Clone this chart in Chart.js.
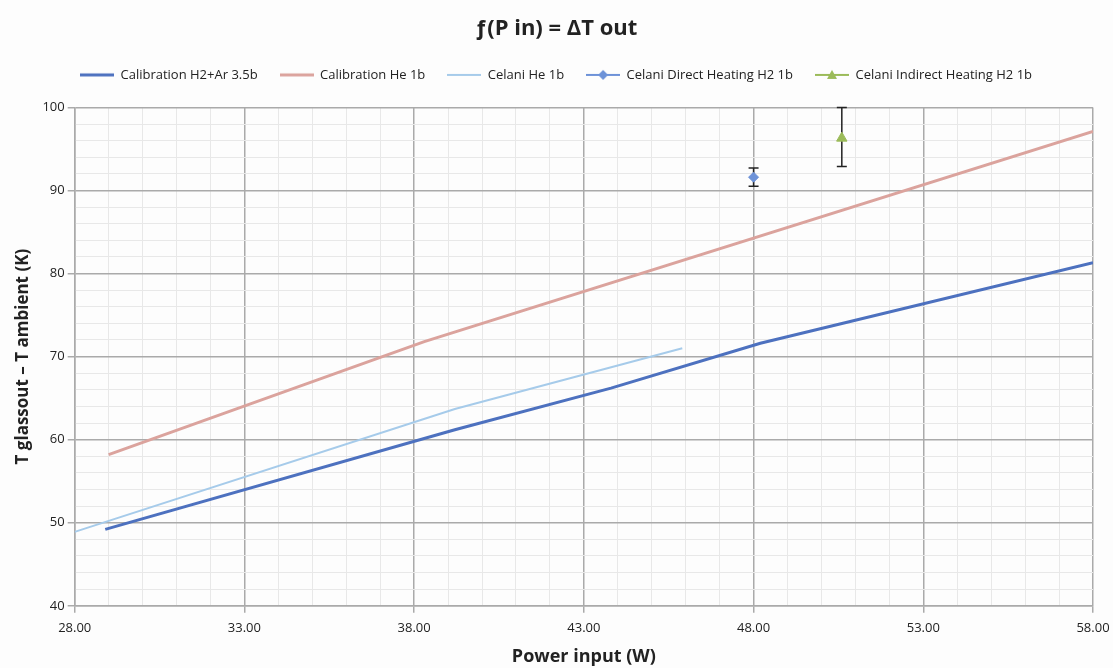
<!DOCTYPE html>
<html>
<head>
<meta charset="utf-8">
<script src="https://cdn.jsdelivr.net/npm/chart.js@4.4.0/dist/chart.umd.min.js"></script>
<style>
  html, body { margin: 0; padding: 0; background: #fdfdfd; }
  #wrap { width: 1113px; height: 668px; }
</style>
</head>
<body>
<div id="wrap"><canvas id="heatChart"></canvas></div>
<script>
// series
const calH2ArX = [28.9, 39.2, 43.8, 48.2, 58.0];
const calH2ArY = [49.2, 61.2, 66.2, 71.6, 81.3];

const calHeX = [29.0, 38.3, 58.0];
const calHeY = [58.2, 71.8, 97.1];

const celaniHeX = [28.0, 39.2, 45.9];
const celaniHeY = [48.9, 63.7, 71.0];

const directX = [48.0];
const directY = [91.6];
const directLow = [90.5];
const directHigh = [92.7];

const indirectX = [50.6];
const indirectY = [96.3];
const indirectLow = [92.9];
const indirectHigh = [100.0];

const toPoints = (xs, ys) => xs.map((x, i) => ({ x: x, y: ys[i] }));

// little legend swatch: a line with an optional marker in the middle
function swatch(color, width, marker) {
    const c = document.createElement('canvas');
    c.width = 34; c.height = 14;
    const g = c.getContext('2d');
    g.strokeStyle = color;
    g.lineWidth = width;
    g.beginPath(); g.moveTo(0, 7); g.lineTo(34, 7); g.stroke();
    g.fillStyle = color;
    if (marker === 'diamond') {
        g.beginPath(); g.moveTo(17, 2); g.lineTo(22, 7); g.lineTo(17, 12); g.lineTo(12, 7); g.closePath(); g.fill();
    } else if (marker === 'triangle') {
        g.beginPath(); g.moveTo(17, 2); g.lineTo(22, 11); g.lineTo(12, 11); g.closePath(); g.fill();
    }
    return c;
}

// vertical error bars drawn through the chart scales
const errorBars = {
    id: 'errorBars',
    beforeDatasetsDraw(chart) {
        const ctx = chart.ctx;
        const xs = chart.scales.x, ys = chart.scales.y;
        chart.data.datasets.forEach((ds) => {
            if (!ds.errLow) return;
            ds.data.forEach((p, i) => {
                const px = xs.getPixelForValue(p.x);
                const top = ys.getPixelForValue(ds.errHigh[i]);
                const bot = ys.getPixelForValue(ds.errLow[i]);
                ctx.save();
                ctx.strokeStyle = '#222';
                ctx.lineWidth = 1.5;
                ctx.beginPath();
                ctx.moveTo(px, top); ctx.lineTo(px, bot);
                ctx.moveTo(px - 5, top); ctx.lineTo(px + 5, top);
                ctx.moveTo(px - 5, bot); ctx.lineTo(px + 5, bot);
                ctx.stroke();
                ctx.restore();
            });
        });
    }
};

const bgPlugin = {
    id: 'bg',
    beforeDraw(chart) {
        const ctx = chart.ctx;
        ctx.save();
        ctx.fillStyle = '#fdfdfd';
        ctx.fillRect(0, 0, chart.width, chart.height);
        ctx.restore();
    }
};

// extra room under the legend
const legendGap = {
    id: 'legendGap',
    beforeInit(chart) {
        const fit = chart.legend.fit;
        chart.legend.fit = function () {
            fit.bind(chart.legend)();
            this.height += 16;
        };
    }
};

const ctx = document.getElementById('heatChart').getContext('2d');
const heatChart = new Chart(ctx, {
    type: 'line',
    data: {
        datasets: [{
            label: 'Calibration H2+Ar 3.5b',
            data: toPoints(calH2ArX, calH2ArY),
            borderColor: '#4d71bf',
            backgroundColor: '#4d71bf',
            borderWidth: 3,
            pointRadius: 0,
            pointStyle: swatch('#4d71bf', 3)
        }, {
            label: 'Calibration He 1b',
            data: toPoints(calHeX, calHeY),
            borderColor: '#dba39d',
            backgroundColor: '#dba39d',
            borderWidth: 3,
            pointRadius: 0,
            pointStyle: swatch('#dba39d', 3)
        }, {
            label: 'Celani He 1b',
            data: toPoints(celaniHeX, celaniHeY),
            borderColor: '#a6cbea',
            backgroundColor: '#a6cbea',
            borderWidth: 2,
            pointRadius: 0,
            pointStyle: swatch('#a6cbea', 2)
        }, {
            label: 'Celani Direct Heating H2 1b',
            data: toPoints(directX, directY),
            errLow: directLow,
            errHigh: directHigh,
            showLine: false,
            borderColor: '#6d92d8',
            backgroundColor: '#6d92d8',
            pointStyle: 'rectRot',
            pointRadius: 5,
            borderWidth: 1
        }, {
            label: 'Celani Indirect Heating H2 1b',
            data: toPoints(indirectX, indirectY),
            errLow: indirectLow,
            errHigh: indirectHigh,
            showLine: false,
            borderColor: '#9bbb59',
            backgroundColor: '#9bbb59',
            pointStyle: 'triangle',
            pointRadius: 6,
            borderWidth: 1
        }]
    },
    plugins: [bgPlugin, errorBars, legendGap],
    options: {
        responsive: true,
        maintainAspectRatio: false,
        animation: false,
        layout: { padding: { left: 9, right: 10, top: 8, bottom: 0 } },
        plugins: {
            title: {
                display: true,
                text: 'ƒ(P in) = ΔT out',
                color: '#222',
                font: { family: 'Open Sans', size: 22, weight: 'bold' },
                padding: { top: 8, bottom: 4 }
            },
            legend: {
                labels: {
                    usePointStyle: true,
                    pointStyleWidth: 34,
                    color: '#222',
                    font: { family: 'Open Sans', size: 13 },
                    padding: 22,
                    generateLabels(chart) {
                        const base = Chart.defaults.plugins.legend.labels.generateLabels(chart);
                        const marks = [null, null, null,
                            swatch('#6d92d8', 2, 'diamond'),
                            swatch('#9bbb59', 2, 'triangle')];
                        return base.map((item, i) => {
                            if (marks[i]) item.pointStyle = marks[i];
                            return item;
                        });
                    }
                }
            },
            tooltip: { enabled: false }
        },
        scales: {
            x: {
                type: 'linear',
                min: 28,
                max: 58,
                afterFit: (s) => { s.paddingRight = 20; },
                title: {
                    display: true,
                    text: 'Power input (W)',
                    color: '#222',
                    font: { family: 'Open Sans', size: 18, weight: 'bold' },
                    padding: { top: 2, bottom: 0 }
                },
                ticks: {
                    stepSize: 1,
                    autoSkip: false,
                    maxRotation: 0,
                    padding: 8,
                    color: '#222',
                    font: { family: 'Open Sans', size: 13 },
                    callback: (v) => ((v - 28) % 5 === 0 ? v.toFixed(2) : '')
                },
                grid: {
                    color: (c) => ((c.tick && (c.tick.value - 28) % 5 === 0) ? '#aaaaaa' : '#e8e8e8'),
                    lineWidth: (c) => ((c.tick && (c.tick.value - 28) % 5 === 0) ? 1.5 : 1),
                    tickColor: (c) => ((c.tick && (c.tick.value - 28) % 5 === 0) ? '#aaaaaa' : 'rgba(0,0,0,0)'),
                    tickLength: 7
                },
                border: { color: '#aaaaaa', width: 1.5 }
            },
            y: {
                min: 40,
                max: 100,
                title: {
                    display: true,
                    text: 'T glassout – T ambient (K)',
                    color: '#222',
                    font: { family: 'Open Sans', size: 17, weight: 'bold' },
                    padding: { bottom: 6 }
                },
                ticks: {
                    stepSize: 2,
                    autoSkip: false,
                    color: '#222',
                    font: { family: 'Open Sans', size: 13 },
                    callback: (v) => (v % 10 === 0 ? v : '')
                },
                grid: {
                    color: (c) => ((c.tick && c.tick.value % 10 === 0) ? '#aaaaaa' : '#e8e8e8'),
                    lineWidth: (c) => ((c.tick && c.tick.value % 10 === 0) ? 1.5 : 1),
                    tickColor: (c) => ((c.tick && c.tick.value % 10 === 0) ? '#aaaaaa' : 'rgba(0,0,0,0)'),
                    tickLength: 7
                },
                border: { color: '#aaaaaa', width: 1.5 }
            }
        }
    }
});
</script>
</body>
</html>
